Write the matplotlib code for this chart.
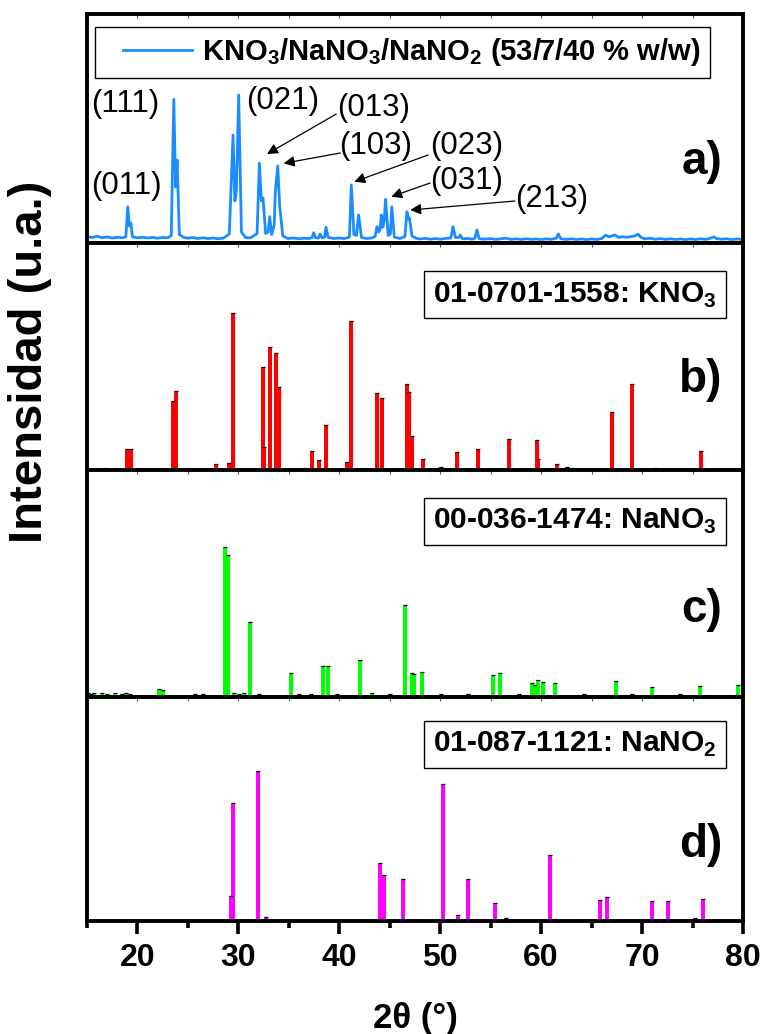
import matplotlib
matplotlib.use("Agg")
import matplotlib.pyplot as plt
from matplotlib.ticker import MultipleLocator
from matplotlib.legend_handler import HandlerLine2D

plt.rcParams['font.family'] = 'Liberation Sans'
plt.rcParams['mathtext.fontset'] = 'custom'
plt.rcParams['mathtext.rm'] = 'Liberation Sans'
plt.rcParams['mathtext.bf'] = 'Liberation Sans:bold'

# --- a) measured pattern of the ternary salt (counts) ---
two_theta_a = [15.0, 15.5, 16.0, 16.5, 17.0, 17.5, 18.0, 18.5, 18.85, 19.04,
               19.2, 19.35, 19.5, 20.0, 20.5, 21.0, 21.5, 22.0, 22.5, 23.0,
               23.35, 23.6, 23.78, 23.93, 24.15, 24.6, 25.0, 25.5, 26.0, 26.5,
               27.0, 27.5, 28.0, 28.5, 29.1, 29.47, 29.65, 29.8, 30.03, 30.3,
               30.7, 31.2, 31.85, 32.08, 32.28, 32.44, 32.7, 32.95, 33.1, 33.3,
               33.55, 33.66, 33.9, 34.09, 34.4, 34.9, 35.5, 36.0, 36.5, 37.0,
               37.3, 37.46, 37.65, 37.95, 38.1, 38.3, 38.55, 38.68, 38.9, 39.5,
               40.0, 40.5, 41.0, 41.19, 41.45, 41.7, 41.91, 42.2, 42.7, 43.2,
               43.55, 43.73, 43.9, 44.05, 44.16, 44.32, 44.45, 44.58, 44.85, 45.05,
               45.2, 45.45, 46.0, 46.5, 46.7, 46.85, 46.95, 47.2, 47.6, 48.0,
               48.5, 49.0, 49.5, 50.0, 50.5, 51.05, 51.26, 51.5, 51.85, 51.98,
               52.2, 52.7, 53.2, 53.45, 53.63, 53.85, 54.3, 55.0, 55.5, 56.0,
               56.5, 57.0, 57.5, 58.0, 58.5, 59.0, 59.5, 60.0, 60.5, 61.0,
               61.5, 61.7, 61.95, 62.5, 63.0, 63.5, 64.0, 64.5, 65.0, 65.5,
               66.0, 66.4, 66.7, 67.0, 67.3, 67.7, 68.0, 68.5, 69.0, 69.3,
               69.6, 69.9, 70.3, 70.8, 71.3, 71.8, 72.3, 72.8, 73.3, 73.8,
               74.3, 74.8, 75.3, 75.8, 76.3, 76.8, 77.1, 77.4, 77.9, 78.4,
               78.9, 79.4, 80.0]
counts_a = [62, 55, 68, 52, 60, 50, 58, 52, 62, 363,
            170, 200, 62, 52, 58, 50, 56, 48, 55, 52,
            75, 1437, 560, 830, 85, 55, 48, 55, 45, 52,
            44, 50, 42, 48, 90, 1080, 420, 520, 1480, 110,
            55, 50, 95, 797, 420, 450, 95, 110, 263, 85,
            180, 513, 770, 370, 70, 45, 50, 42, 48, 44,
            55, 103, 52, 50, 90, 50, 60, 157, 55, 45,
            50, 44, 60, 580, 85, 75, 280, 55, 45, 50,
            65, 163, 110, 140, 280, 160, 230, 437, 75, 90,
            363, 60, 45, 65, 313, 240, 250, 70, 48, 40,
            46, 38, 44, 38, 45, 50, 163, 55, 55, 80,
            42, 45, 38, 50, 130, 45, 38, 44, 36, 42,
            48, 36, 42, 35, 42, 36, 40, 34, 42, 36,
            48, 90, 42, 36, 42, 35, 40, 34, 40, 35,
            45, 78, 62, 70, 80, 55, 62, 58, 65, 72,
            88, 55, 42, 48, 38, 44, 36, 42, 35, 40,
            34, 40, 35, 42, 36, 48, 62, 44, 38, 42,
            34, 40, 36]

# reflections labelled on the measured pattern: (text, text x, text y, arrow tail, arrow head)
hkl_labels = ['(111)', '(011)', '(021)', '(013)', '(103)', '(023)', '(031)', '(213)']
hkl_text_x = [15.4, 15.4, 30.8, 39.8, 40.0, 49.0, 49.0, 57.4]
hkl_text_y = [1390, 570, 1420, 1350, 970, 970, 620, 440]
hkl_tail = [None, None, None, (39.7, 1290), (40.1, 900), (48.8, 880), (49.0, 600), (57.4, 420)]
hkl_head = [None, None, None, (32.84, 890), (34.49, 797), (41.49, 613), (45.15, 463), (47.03, 330)]

# --- b) reference card 01-0701-1558, KNO3 (relative intensity %) ---
pos_kno3 = [16.83, 18.98, 19.37, 23.50, 23.83, 27.79, 29.04, 29.44, 32.41, 32.56,
            33.10, 33.73, 34.06, 36.65, 37.34, 38.02, 38.68, 40.79, 41.19, 43.76,
            44.23, 44.60, 45.20, 46.70, 46.93, 47.19, 48.30, 49.70, 50.04, 51.70,
            52.90, 53.78, 54.60, 56.77, 57.60, 59.60, 59.73, 61.55, 62.55, 63.20,
            67.03, 68.96, 71.40, 75.84]
int_kno3 = [1.0, 13.4, 13.2, 44.1, 50.2, 3.6, 4.3, 100.0, 65.3, 14.6,
            78.0, 74.2, 52.6, 1.0, 12.1, 6.2, 28.6, 4.9, 94.7, 49.0,
            46.0, 0.8, 0.8, 54.9, 49.4, 21.8, 6.7, 1.0, 1.9, 11.2,
            0.8, 13.1, 0.8, 19.5, 0.8, 19.3, 6.7, 4.1, 1.8, 1.0,
            37.0, 54.7, 1.0, 11.8]

# --- c) reference card 00-036-1474, NaNO3 ---
pos_nano3 = [15.10, 15.40, 15.70, 16.50, 17.00, 17.80, 18.50, 18.90, 19.30, 22.11,
             22.50, 25.70, 26.50, 28.64, 28.98, 29.60, 30.10, 30.60, 31.16, 32.00,
             35.18, 36.00, 37.20, 38.35, 38.88, 39.80, 42.01, 43.20, 45.00, 46.55,
             47.20, 47.37, 48.20, 50.10, 52.80, 55.27, 55.90, 57.80, 59.05, 59.40,
             59.73, 60.16, 61.36, 64.20, 67.37, 69.00, 71.02, 73.80, 75.77, 79.50]
int_nano3 = [1.2, 0.8, 1.0, 1.3, 0.8, 1.0, 0.8, 1.2, 0.8, 3.9,
             3.2, 0.8, 0.8, 100.0, 94.6, 1.0, 0.8, 1.0, 49.4, 0.8,
             14.7, 0.8, 0.8, 19.8, 19.4, 0.8, 23.7, 1.0, 0.8, 61.1,
             14.9, 14.4, 15.6, 0.8, 0.8, 13.5, 15.1, 0.8, 8.3, 6.9,
             9.9, 8.7, 8.1, 0.8, 9.4, 0.8, 5.6, 0.8, 6.0, 6.9]

# --- d) reference card 01-087-1121, NaNO2 ---
pos_nano2 = [22.67, 29.24, 29.50, 31.95, 32.70, 44.02, 44.47, 46.33, 50.30, 51.72,
             52.78, 55.38, 56.50, 60.89, 61.36, 65.87, 66.48, 70.96, 72.56, 75.20,
             76.04]
int_nano2 = [0.5, 16.6, 78.3, 100.0, 2.9, 38.8, 30.4, 27.7, 91.4, 3.7,
             27.7, 12.1, 2.0, 43.6, 1.3, 14.2, 16.0, 13.3, 13.3, 2.0,
             14.6]

card_labels = [r'01-0701-1558: KNO$_\mathbf{3}$',
               r'00-036-1474: NaNO$_\mathbf{3}$',
               r'01-087-1121: NaNO$_\mathbf{2}$']
panel_tags = ['a)', 'b)', 'c)', 'd)']

W, H = 765, 1034
fig = plt.figure(figsize=(W / 100, H / 100), dpi=100)

# stacked panels, no gap between them (pixel rows: top, bottom)
rows = [(14, 243), (243, 470), (470, 697), (697, 921)]
left, right = 87, 743
axes = []
for top, bottom in rows:
    ax = fig.add_axes([left / W, 1 - bottom / H, (right - left) / W, (bottom - top) / H])
    axes.append(ax)
ax_a, ax_b, ax_c, ax_d = axes

for ax in axes:
    ax.set_xlim(15, 80)
    ax.set_yticks([])
    for sp in ax.spines.values():
        sp.set_linewidth(2.8)
    ax.xaxis.set_major_locator(MultipleLocator(10))
    ax.xaxis.set_minor_locator(MultipleLocator(5))

# measured pattern
line_a, = ax_a.plot(two_theta_a, counts_a, color='#1a8cff', lw=2.0,
                    label=r'KNO$_\mathbf{3}$/NaNO$_\mathbf{3}$/NaNO$_\mathbf{2}$ (53/7/40 % w/w)')
ax_a.set_ylim(0, 2290)
for i, lab in enumerate(hkl_labels):
    ax_a.text(hkl_text_x[i], hkl_text_y[i], lab, fontsize=22.5, ha='left', va='center')
    if hkl_head[i] is not None:
        ax_a.annotate('', xy=hkl_head[i], xytext=hkl_tail[i],
                      arrowprops=dict(arrowstyle='-|>', color='black', lw=0.9,
                                      mutation_scale=16, shrinkA=0, shrinkB=0))
leg = ax_a.legend(loc='upper left', bbox_to_anchor=(0.012, 0.943), borderaxespad=0,
                  prop={'weight': 'bold', 'size': 21}, handlelength=3.0,
                  handletextpad=0.35, borderpad=0.32, fancybox=False, framealpha=1,
                  handler_map={line_a: HandlerLine2D(xpad=0.65)})
leg.get_frame().set_edgecolor('black')
leg.get_frame().set_linewidth(1.0)

# reference stick patterns
sticks = [(ax_b, pos_kno3, int_kno3, '#ff0000', (0, 144.3)),
          (ax_c, pos_nano3, int_nano3, '#00ff00', (-1.4, 152.3)),
          (ax_d, pos_nano2, int_nano2, '#ff00ff', (0, 149.0))]
label_y = [0.771, 0.775, 0.790]
for k, (ax, pos, inten, col, lim) in enumerate(sticks):
    ax.bar(pos, inten, width=0.4, color=col, bottom=0, align='center')
    ax.plot(pos, inten, ls='none', marker='_', ms=3, mew=0.9, color='black')
    ax.set_ylim(*lim)
    ax.text(0.960, label_y[k], card_labels[k], transform=ax.transAxes,
            ha='right', va='center', fontsize=21.5, fontweight='bold',
            bbox=dict(boxstyle='square,pad=0.3', fc='white', ec='black', lw=1.0))

tag_y = [0.354, 0.396, 0.383, 0.34]
for ax, tag, ty in zip(axes, panel_tags, tag_y):
    ax.text(0.968, ty, tag, transform=ax.transAxes, ha='right', va='center',
            fontsize=33, fontweight='bold')

# small inward ticks along the top of every panel
for ax in axes[:3]:
    ax.tick_params(axis='x', which='both', bottom=False, top=True, direction='in',
                   labelbottom=False, length=3, width=0.8, color='#555555')
top_d = ax_d.secondary_xaxis('top')
top_d.xaxis.set_major_locator(MultipleLocator(10))
top_d.xaxis.set_minor_locator(MultipleLocator(5))
top_d.tick_params(axis='x', which='both', direction='in', labeltop=False,
                  length=3, width=0.8, color='#555555')
top_d.spines['top'].set_linewidth(2.8)

ax_d.tick_params(axis='x', which='major', direction='out', length=9, width=2.6,
                 labelsize=23, pad=7)
ax_d.tick_params(axis='x', which='minor', direction='out', length=5, width=2.6)
for t in ax_d.get_xticklabels():
    t.set_fontweight('bold')
ax_d.set_xlabel('2θ (°)', fontsize=25, fontweight='bold', labelpad=21)

fig.text(30 / W, 1 - 362 / H, 'Intensidad (u.a.)', rotation=90, ha='center',
         va='center', fontsize=34, fontweight='bold')

fig.savefig('out.png', dpi=100)
